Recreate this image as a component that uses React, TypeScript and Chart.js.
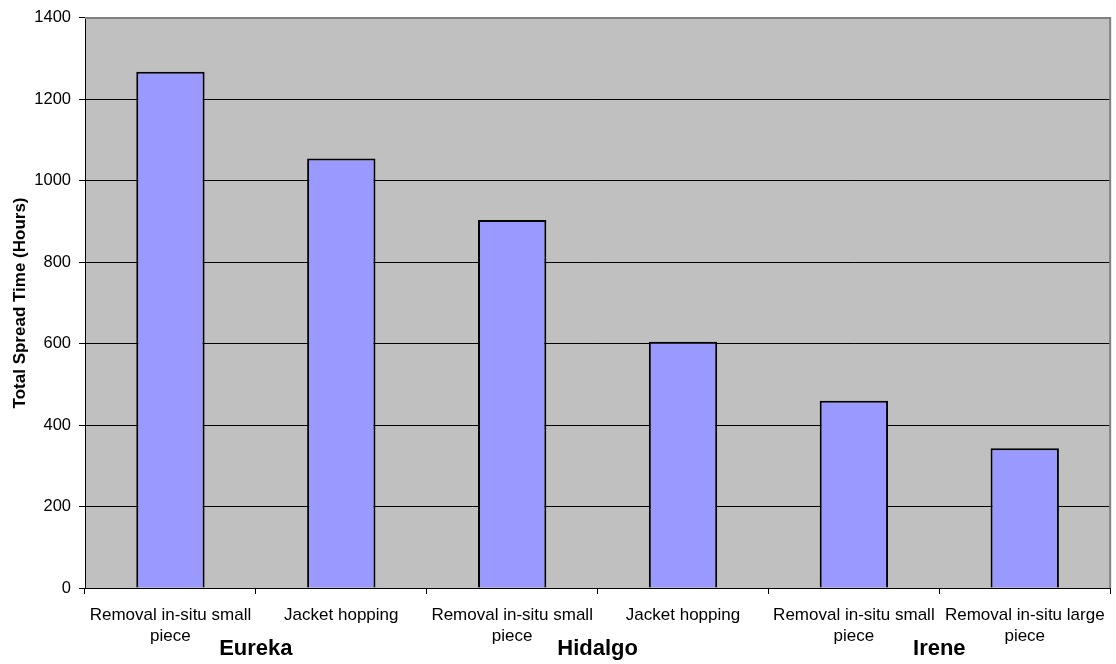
import React, { useEffect, useRef } from "react";
import { Chart, registerables } from "chart.js";

Chart.register(...registerables);

// Task labels along the x axis (line-broken as shown under each bar)
const categories: string[][] = [
  ["Removal in-situ small", "piece"],
  ["Jacket hopping"],
  ["Removal in-situ small", "piece"],
  ["Jacket hopping"],
  ["Removal in-situ small", "piece"],
  ["Removal in-situ large", "piece"],
];

// Total spread time per task, in hours
const spreadHours: number[] = [1268, 1055, 904, 605, 460, 343];

// Platform groups and the category indices each one covers
const groupNames: string[] = ["Eureka", "Hidalgo", "Irene"];
const groupSpans: number[][] = [
  [0, 1],
  [2, 3],
  [4, 5],
];

const yTicks: number[] = [0, 200, 400, 600, 800, 1000, 1200, 1400];

const FONT = "'Liberation Sans', Arial, Helvetica, sans-serif";

const plotFrame = {
  id: "plotFrame",
  beforeDraw(chart: any) {
    const { ctx, chartArea } = chart;
    const { left, top, right, bottom } = chartArea;
    ctx.save();
    ctx.fillStyle = "#C0C0C0";
    ctx.fillRect(left, top, right - left, bottom - top);
    ctx.restore();
  },
  afterDatasetsDraw(chart: any) {
    const { ctx, chartArea } = chart;
    const { left, top, right, bottom } = chartArea;
    ctx.save();
    ctx.strokeStyle = "#808080";
    ctx.lineWidth = 2;
    ctx.beginPath();
    ctx.moveTo(left, top);
    ctx.lineTo(right, top);
    ctx.lineTo(right, bottom);
    ctx.stroke();
    ctx.restore();
  },
};

const groupLabels = {
  id: "groupLabels",
  afterDraw(chart: any) {
    const { ctx } = chart;
    const x = chart.scales.x;
    ctx.save();
    ctx.fillStyle = "#000";
    ctx.font = `bold 22px ${FONT}`;
    ctx.textAlign = "center";
    ctx.textBaseline = "middle";
    groupNames.forEach((name, i) => {
      const [a, b] = groupSpans[i];
      const cx = (x.getPixelForValue(a) + x.getPixelForValue(b)) / 2;
      ctx.fillText(name, cx, 649);
    });
    ctx.restore();
  },
};

export default function App() {
  const ref = useRef<HTMLCanvasElement | null>(null);

  useEffect(() => {
    if (!ref.current) return;
    const chart = new Chart(ref.current, {
      type: "bar",
      data: {
        labels: categories,
        datasets: [
          {
            data: spreadHours,
            backgroundColor: "#9999FF",
            borderColor: "#000000",
            borderWidth: 2,
            barPercentage: 0.4,
            categoryPercentage: 1,
          },
        ],
      },
      options: {
        animation: false,
        responsive: false,
        devicePixelRatio: 1,
        layout: { padding: { top: 14, right: 5, left: 0, bottom: 0 } },
        plugins: {
          legend: { display: false },
          tooltip: { enabled: false },
        },
        scales: {
          x: {
            afterFit(scale: any) {
              scale.height = 76;
            },
            grid: {
              offset: true,
              drawOnChartArea: false,
              drawTicks: true,
              tickLength: 6,
              tickColor: "#000",
            },
            border: { color: "#000", width: 1 },
            ticks: {
              color: "#000",
              padding: 11,
              maxRotation: 0,
              autoSkip: false,
              font: { family: FONT, size: 17, lineHeight: 1.22 },
            },
          },
          y: {
            min: 0,
            max: 1400,
            afterFit(scale: any) {
              scale.width = 85;
            },
            afterBuildTicks(scale: any) {
              scale.ticks = yTicks.map((v) => ({ value: v }));
            },
            grid: {
              color: "#000",
              tickColor: "#000",
              tickLength: 6,
              lineWidth: 1,
            },
            border: { color: "#000", width: 1 },
            ticks: {
              color: "#000",
              padding: 8,
              font: { family: FONT, size: 16.5 },
              callback: (v: any) => String(v),
            },
            title: {
              display: true,
              text: "Total Spread Time (Hours)",
              color: "#000",
              padding: { top: 10, bottom: 0 },
              font: { family: FONT, size: 17, weight: "bold" },
            },
          },
        },
      },
      plugins: [plotFrame, groupLabels],
    });
    return () => chart.destroy();
  }, []);

  return (
    <div style={{ position: "fixed", left: 0, top: 0, width: 1116, height: 664, background: "#fff" }}>
      <canvas ref={ref} width={1116} height={664} style={{ display: "block" }} />
    </div>
  );
}
